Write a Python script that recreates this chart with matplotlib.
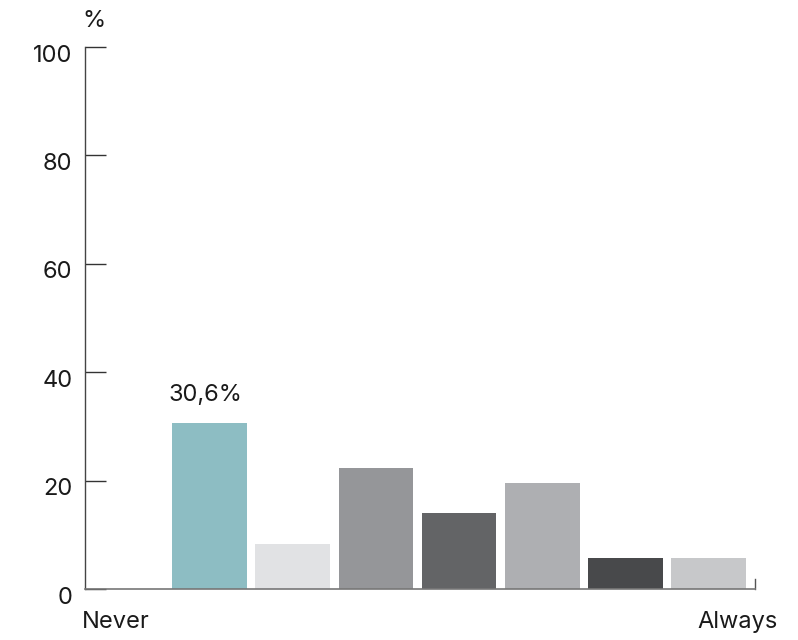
import numpy as np
import matplotlib.pyplot as plt
import matplotlib.transforms as mtransforms

plt.rcParams['font.family'] = ['Inter', 'DejaVu Sans']

# 0 = Never ... 7 = Always
scale = np.arange(8)
values = [0, 30.6, 8.3, 22.3, 14.0, 19.6, 5.7, 5.7]
colors = ['#ffffff', '#8dbdc3', '#e1e2e4', '#959699', '#636466', '#aeafb2', '#48494b', '#c7c8ca']
yticks = [0, 20, 40, 60, 80, 100]

fig = plt.figure(figsize=(7.98, 6.4), dpi=100)
ax = fig.add_axes([85 / 798, 1 - 589 / 640, 670 / 798, 542 / 640])

ax.bar(scale[1:], values[1:], width=0.9, color=colors[1:], zorder=2)
ax.set_xlim(-0.5, 7.56)
ax.set_ylim(0, 100)

# label on the highest bar
top = int(np.argmax(values))
ax.text(scale[top] - 0.05, values[top] + 5.2, ('%.1f%%' % values[top]).replace('.', ','),
        ha='center', va='center', fontsize=17, color='#1a1a1a')

ax.set_yticks(yticks)
ax.tick_params(axis='y', direction='in', length=15, width=1, color='#333333',
               pad=9, labelsize=17, labelcolor='#1a1a1a')
# labels sit a bit below their ticks
off = mtransforms.ScaledTranslation(0, -6 / 100, fig.dpi_scale_trans)
for lbl in ax.get_yticklabels():
    lbl.set_transform(lbl.get_transform() + off)
ax.set_xticks([])

for s in ['top', 'right']:
    ax.spines[s].set_visible(False)
ax.spines['left'].set_color('#444444')
ax.spines['bottom'].set_color('#777777')
ax.spines['left'].set_linewidth(1)
ax.spines['bottom'].set_linewidth(1.2)

# small end tick on the x axis
ax.plot([1, 1], [0, 0.018], transform=ax.transAxes, color='#555555', lw=1, clip_on=False)

ax.text(-0.004, 1.048, '%', transform=ax.transAxes, ha='left', va='center', fontsize=17, color='#1a1a1a')
fig.text(82 / 798, 1 - 622 / 640, 'Never', ha='left', va='center', fontsize=17, color='#1a1a1a')
fig.text(778 / 798, 1 - 622 / 640, 'Always', ha='right', va='center', fontsize=17, color='#1a1a1a')

fig.savefig('out.png', dpi=100)
